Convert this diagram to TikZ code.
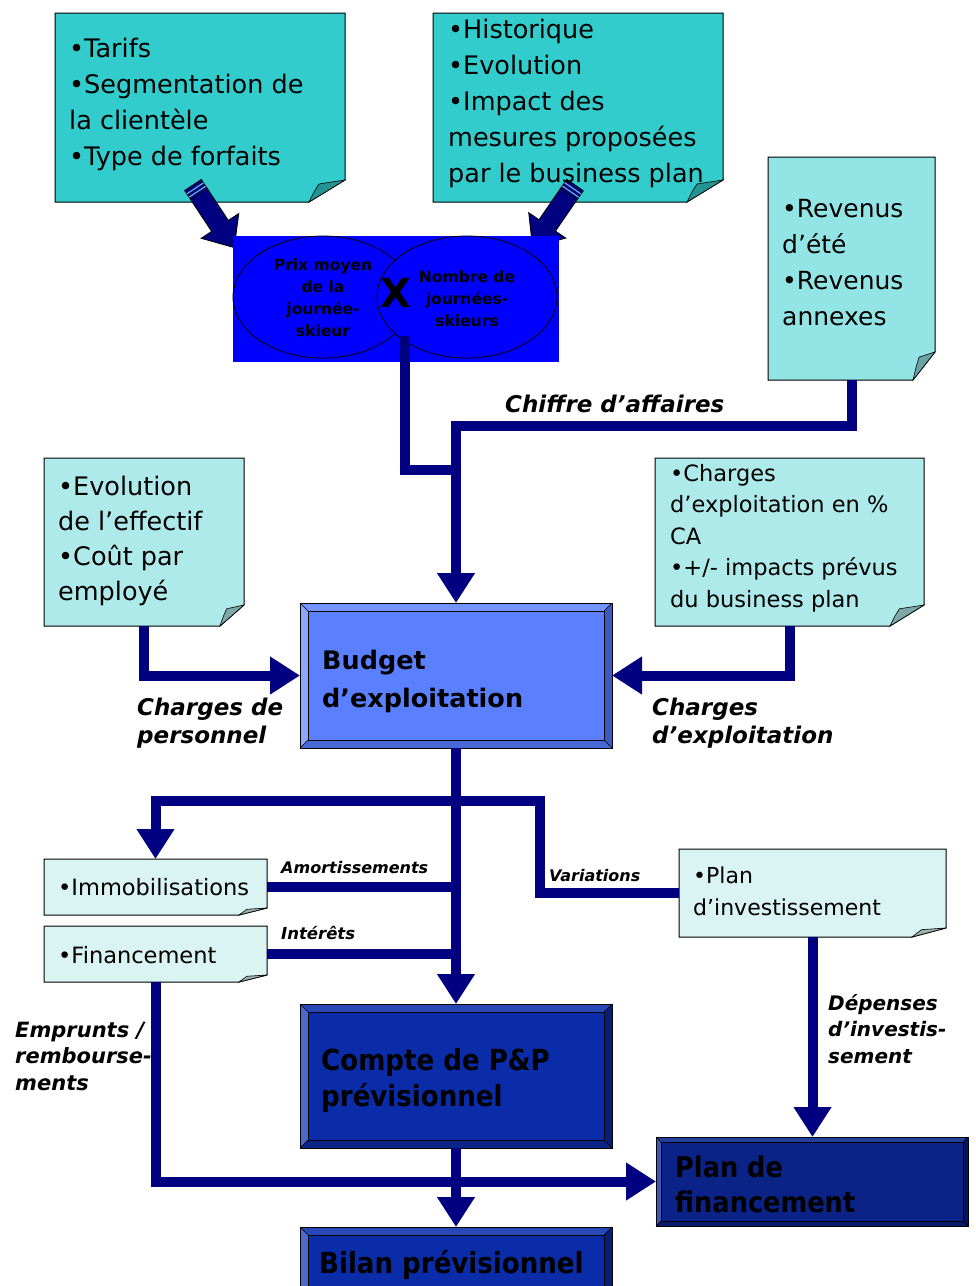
\documentclass[tikz,border=0pt]{standalone}
\usepackage{fontspec}
\setmainfont{DejaVu Sans}
\newfontfamily\condf{DejaVu Sans Condensed}
\usetikzlibrary{arrows.meta,calc,shapes.geometric}
\definecolor{navy}{HTML}{000080}
\definecolor{teal1}{HTML}{33CCCC}
\definecolor{aqua2}{HTML}{93E4E4}
\definecolor{aqua3}{HTML}{AEEAEA}
\definecolor{aqua4}{HTML}{DAF4F4}
\definecolor{pureblue}{HTML}{0000FF}
\definecolor{budfill}{HTML}{5B80FF}
\definecolor{budtop}{HTML}{7393FF}
\definecolor{budleft}{HTML}{8DA7FF}
\definecolor{budright}{HTML}{3D5AC0}
\definecolor{budbot}{HTML}{4868D6}
\definecolor{cpfill}{HTML}{0A2CA8}
\definecolor{cptop}{HTML}{2848B8}
\definecolor{cpleft}{HTML}{4A6AD0}
\definecolor{cpright}{HTML}{061E78}
\definecolor{cpbot}{HTML}{0A2488}
\definecolor{pffill}{HTML}{0B2286}
\definecolor{pftop}{HTML}{23409E}
\definecolor{pfleft}{HTML}{3A58B4}
\definecolor{pfright}{HTML}{041460}
\definecolor{pfbot}{HTML}{081A6C}
\definecolor{capline}{HTML}{5FA8C8}

% note shape: #1 node, #2 fill, #3 vertical fold, #4 horizontal fold
\newcommand\drawnote[4]{%
  \filldraw[fill=#2, draw=black, line width=1pt]
    (#1.north west) -- (#1.north east) -- ([yshift=#3pt]#1.south east)
    -- ([xshift=-#4pt]#1.south east) -- (#1.south west) -- cycle;
  \filldraw[fill=#2!72!black, draw=black, line width=0.6pt]
    ([yshift=#3pt]#1.south east) -- ([xshift=-#4pt]#1.south east)
    .. controls ([xshift=-0.85*#4pt, yshift=0.5*#3pt]#1.south east) ..
    ([xshift=-0.72*#4pt, yshift=0.82*#3pt]#1.south east) -- cycle;
}
% bevelled box: #1 node, #2 fill, #3 top, #4 left, #5 right, #6 bottom, #7 bevel
\newcommand\bevelbox[7]{%
  \fill[#2] (#1.north west) rectangle (#1.south east);
  \fill[#3] (#1.north west) -- (#1.north east) -- ([shift={(-#7,-#7)}]#1.north east) -- ([shift={(#7,-#7)}]#1.north west) -- cycle;
  \fill[#4] (#1.north west) -- ([shift={(#7,-#7)}]#1.north west) -- ([shift={(#7,#7)}]#1.south west) -- (#1.south west) -- cycle;
  \fill[#5] (#1.north east) -- (#1.south east) -- ([shift={(-#7,#7)}]#1.south east) -- ([shift={(-#7,-#7)}]#1.north east) -- cycle;
  \fill[#6] (#1.south west) -- (#1.south east) -- ([shift={(-#7,#7)}]#1.south east) -- ([shift={(#7,#7)}]#1.south west) -- cycle;
  \draw[black, line width=0.6pt] ([shift={(#7,-#7)}]#1.north west) rectangle ([shift={(-#7,#7)}]#1.south east);
  \draw[black, line width=0.5pt] (#1.north west) -- ([shift={(#7,-#7)}]#1.north west)
     (#1.north east) -- ([shift={(-#7,-#7)}]#1.north east)
     (#1.south east) -- ([shift={(-#7,#7)}]#1.south east)
     (#1.south west) -- ([shift={(#7,#7)}]#1.south west);
  \draw[black, line width=1pt] (#1.north west) rectangle (#1.south east);
}
% block arrow: tail x, tail y, angle
\newcommand\blockarrow[3]{%
  \begin{scope}[shift={(#1,#2)}, rotate=#3]
    \filldraw[fill=navy, draw=black, line width=0.8pt]
      (0,-10) -- (49,-10) -- (49,-22.5) -- (75,0) -- (49,22.5) -- (49,10) -- (0,10) -- cycle;
    \draw[capline, line width=1.3pt] (4,-10) -- (4,10) (8,-10) -- (8,10);
    \draw[black, line width=0.6pt] (11,-10) -- (11,10);
  \end{scope}
}

\begin{document}
\begin{tikzpicture}[x=1pt,y=1pt,
  frame/.style={inner sep=0pt, outer sep=0pt, anchor=north west, draw=none},
  conn/.style={draw=navy, line width=10pt},
  arr/.style={conn, -{Triangle[length=30pt,width=36pt]}},
  txt/.style={inner sep=0pt, anchor=north west, align=left},
  ntxt/.style={txt, font=\fontsize{25.5}{36}\selectfont},
  stxt/.style={txt, font=\fontsize{22.5}{31.5}\selectfont},
  btxt/.style={txt, font=\bfseries\fontsize{25.5}{38}\selectfont},
  ctxt/.style={txt, font=\condf\bfseries\fontsize{29}{36}\selectfont},
  lbl/.style={txt, font=\bfseries\itshape\fontsize{23}{28}\selectfont},
  slbl/.style={txt, font=\bfseries\itshape\fontsize{16}{20}\selectfont},
  elbl/.style={inner sep=0pt, anchor=north, align=center, font=\bfseries\fontsize{15.5}{22}\selectfont},
  ell/.style={ellipse, draw=black, fill=pureblue, line width=0.8pt, inner sep=0pt, minimum width=180pt, minimum height=122pt}
]
\useasboundingbox (0,0) rectangle (976,-1286);
\fill[white] (0,0) rectangle (976,-1286);

% ---------- frames (named nodes) ----------
\node[frame, minimum width=290pt, minimum height=189pt] (tarifs) at (55,-13) {};
\node[frame, minimum width=290pt, minimum height=189pt] (histo) at (433,-13) {};
\node[frame, minimum width=167pt, minimum height=223pt] (rev) at (768,-157) {};
\node[frame, minimum width=200pt, minimum height=168pt] (evo) at (44,-458) {};
\node[frame, minimum width=269pt, minimum height=168pt] (chg) at (655,-458) {};
\node[frame, minimum width=312pt, minimum height=145pt] (budget) at (300,-603) {};
\node[frame, minimum width=223pt, minimum height=56pt] (immo) at (44,-859) {};
\node[frame, minimum width=223pt, minimum height=56pt] (fin) at (44,-926) {};
\node[frame, minimum width=267pt, minimum height=88pt] (pinv) at (679,-849) {};
\node[frame, minimum width=312pt, minimum height=144pt] (compte) at (300,-1004) {};
\node[frame, minimum width=312pt, minimum height=80pt] (bilan) at (300,-1227) {};
\node[frame, minimum width=312pt, minimum height=89pt] (pfin) at (656,-1137) {};

% ---------- top notes and block arrows ----------
\drawnote{tarifs}{teal1}{22}{36}
\drawnote{histo}{teal1}{22}{36}
\blockarrow{193}{-185}{-56.6}
\blockarrow{575}{-185}{-124.5}

% ---------- price x volume ----------
\node[frame, fill=pureblue, minimum width=326pt, minimum height=126pt] (ca) at (233,-236) {};
\node[ell] (prix) at (323,-297) {};
\node[ell] (nbj) at (467,-297) {};
\node[elbl] (prixt) at (prix.center |- 0,-258) {\rule{0pt}{12pt}Prix moyen\\de la\\journée-\\skieur};
\node[elbl] (nbjt) at (nbj.center |- 0,-270) {\rule{0pt}{12pt}Nombre de\\journées-\\skieurs};
\node[inner sep=0pt, anchor=base, font=\bfseries\fontsize{40}{40}\selectfont] (fois) at (396,-307) {X};

% ---------- other notes ----------
\drawnote{rev}{aqua2}{28}{22}
\drawnote{evo}{aqua3}{21}{24}
\drawnote{chg}{aqua3}{21}{34}
\drawnote{immo}{aqua4}{7}{28}
\drawnote{fin}{aqua4}{7}{28}
\drawnote{pinv}{aqua4}{9}{34}

% ---------- bevelled boxes ----------
\bevelbox{budget}{budfill}{budtop}{budleft}{budright}{budbot}{8}
\bevelbox{compte}{cpfill}{cptop}{cpleft}{cpright}{cpbot}{8}
\bevelbox{bilan}{cpfill}{cptop}{cpleft}{cpright}{cpbot}{8}
\bevelbox{pfin}{pffill}{pftop}{pfleft}{pfright}{pfbot}{5}

% ---------- connectors ----------
\coordinate (casrc) at (405,-336);
\coordinate (cajoin) at (budget.north |- 0,-426);
\coordinate (prjoin) at (budget.north |- 0,-470);
\coordinate (br) at (budget.south |- 0,-801);
\coordinate (vb) at (540,-801);

\draw[arr] (rev.south) |- (cajoin) -- (budget.north);
\draw[conn] (casrc) |- (prjoin);
\draw[arr] (evo.south) |- (budget.west);
\draw[arr] (chg.south) |- (budget.east);
\draw[arr] (budget.south) -- (compte.north);
\draw[arr] (br) -| (immo.north);
\draw[conn] (br) -- (vb) |- (pinv.west);
\draw[conn] (immo.east) -- (immo.east -| budget.south);
\draw[conn] (fin.east) -- (fin.east -| budget.south);
\draw[arr] (fin.south) |- (pfin.west);
\draw[arr] (pinv.south) -- (pinv.south |- pfin.north);
\draw[arr] (compte.south) -- (bilan.north);

% ---------- texts ----------
\node[ntxt] (tarifst) at (69,-37) {\rule{0pt}{20pt}•Tarifs\\•Segmentation de\\la clientèle\\•Type de forfaits};
\node[ntxt] (histot) at (448,-18) {\rule{0pt}{20pt}•Historique\\•Evolution\\•Impact des\\mesures proposées\\par le business plan};
\node[ntxt, font=\fontsize{25}{36}\selectfont] (revt) at (782,-197) {\rule{0pt}{20pt}•Revenus\\d’été\\•Revenus\\annexes};
\node[ntxt, font=\fontsize{25.5}{35}\selectfont] (evot) at (58,-475) {\rule{0pt}{20pt}•Evolution\\de l’effectif\\•Coût par\\employé};
\node[stxt] (chgt) at (670,-464) {\rule{0pt}{17pt}•Charges\\d’exploitation en \%\\CA\\•+/- impacts prévus\\du business plan};
\node[stxt] (immot) at (58,-878) {\rule{0pt}{17pt}•Immobilisations};
\node[stxt] (fint) at (58,-946) {\rule{0pt}{17pt}•Financement};
\node[txt, font=\fontsize{22}{32}\selectfont] (pinvt) at (693,-866) {\rule{0pt}{17pt}•Plan\\d’investissement};
\node[btxt] (budgett) at (322,-650) {\rule{0pt}{19pt}Budget\\d’exploitation};
\node[ctxt, font=\condf\bfseries\fontsize{29}{36}\selectfont] (comptet) at (321,-1048) {\rule{0pt}{22pt}Compte de P\&P\\prévisionnel};
\node[ctxt] (bilant) at (319,-1250) {\rule{0pt}{22pt}Bilan prévisionnel};
\node[ctxt, font=\condf\bfseries\fontsize{28.5}{35}\selectfont] (pfint) at (675,-1155) {\rule{0pt}{22pt}Plan de\\financement};

\node[lbl] (l1) at (505,-394) {\rule{0pt}{18pt}Chiffre d’affaires};
\node[lbl] (l2) at (137,-697) {\rule{0pt}{18pt}Charges de\\personnel};
\node[lbl] (l3) at (652,-697) {\rule{0pt}{18pt}Charges\\d’exploitation};
\node[slbl] (l4) at (281,-860) {\rule{0pt}{13pt}Amortissements};
\node[slbl, font=\bfseries\itshape\fontsize{16.5}{20}\selectfont] (l5) at (281,-926) {\rule{0pt}{13pt}Intérêts};
\node[slbl] (l6) at (549,-868) {\rule{0pt}{13pt}Variations};
\node[txt, font=\bfseries\itshape\fontsize{21}{26.5}\selectfont] (l7) at (15,-1020) {\rule{0pt}{17pt}Emprunts /\\rembourse-\\ments};
\node[txt, font=\bfseries\itshape\fontsize{20}{26.5}\selectfont] (l8) at (828,-994) {\rule{0pt}{16pt}Dépenses\\d’investis-\\sement};
\end{tikzpicture}
\end{document}
